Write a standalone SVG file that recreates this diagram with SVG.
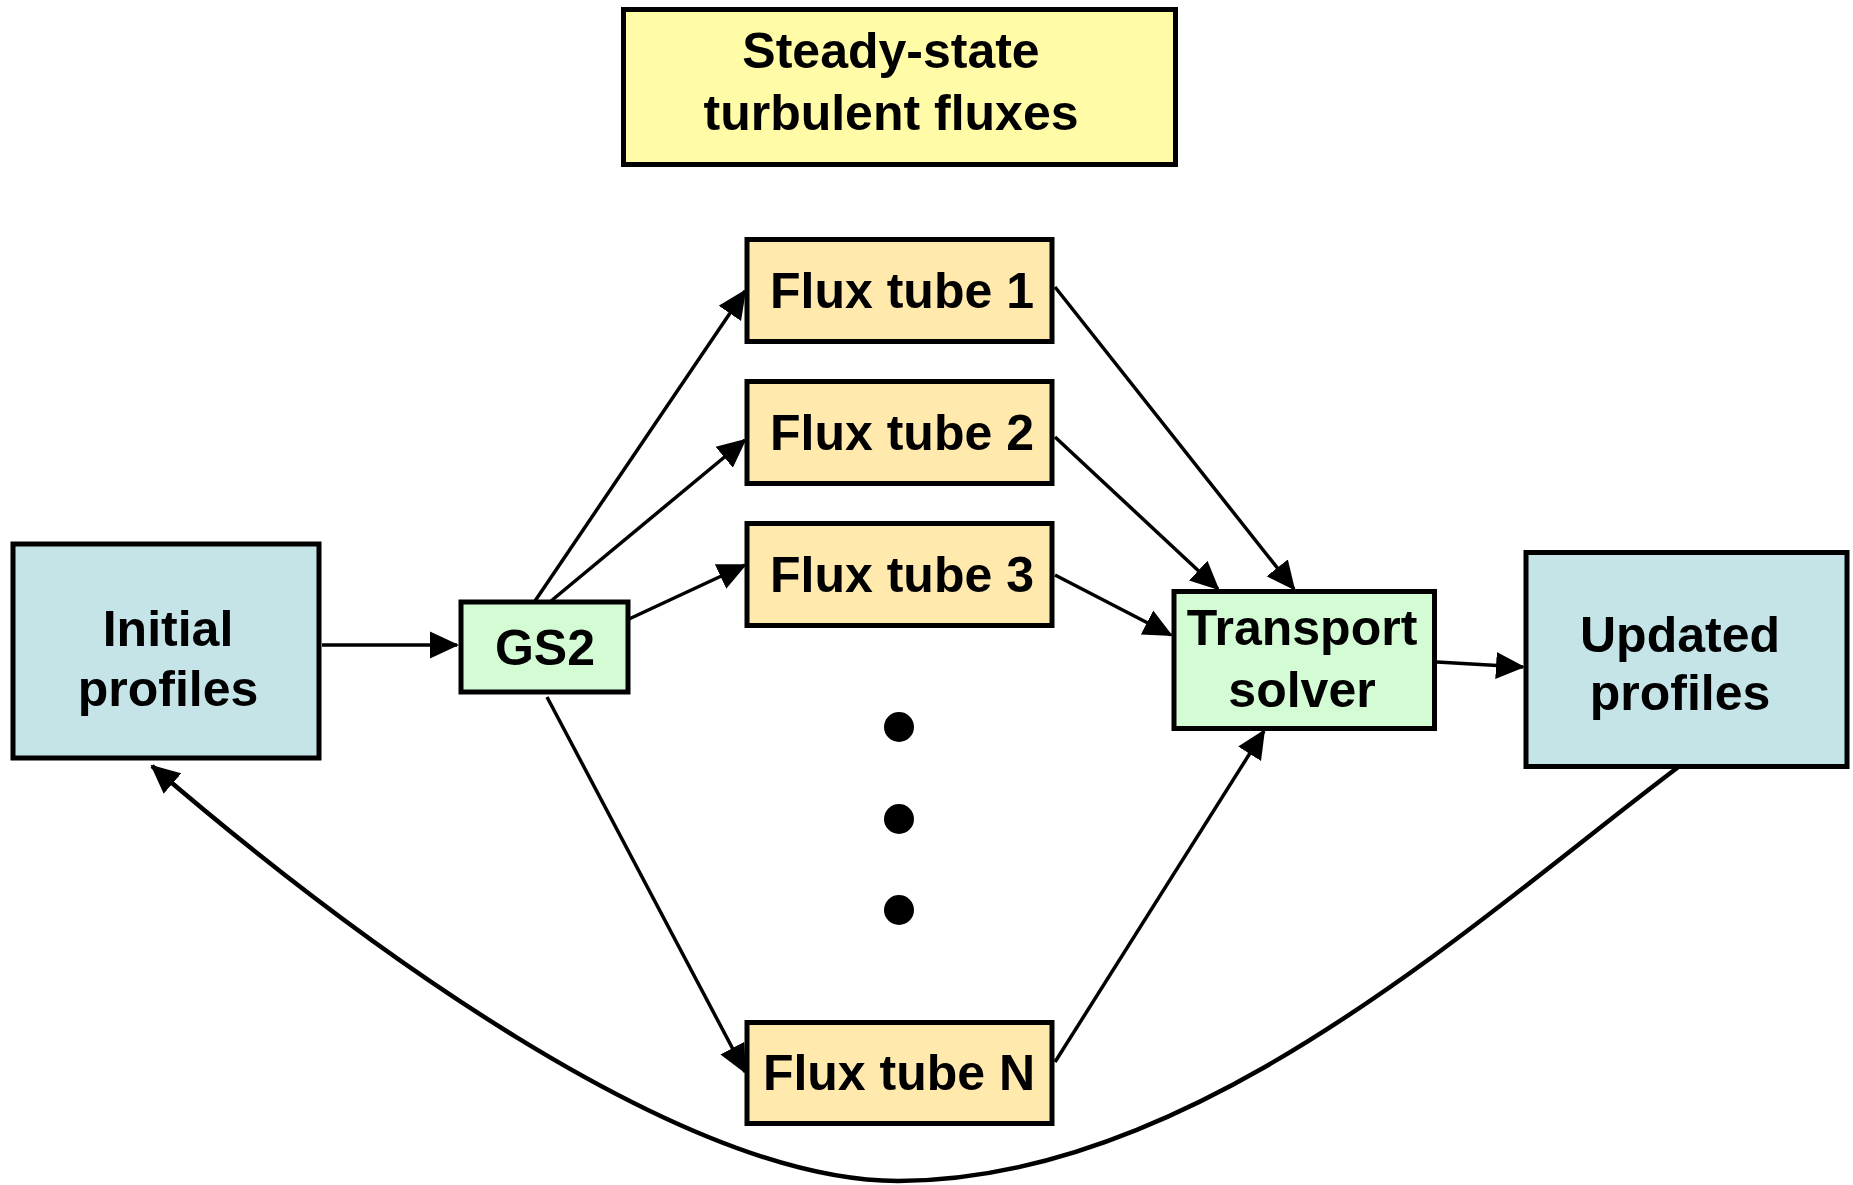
<svg xmlns="http://www.w3.org/2000/svg" width="1853" height="1185" viewBox="0 0 1853 1185">
  <defs>
    <marker id="arrow" markerUnits="userSpaceOnUse" markerWidth="30" markerHeight="28" viewBox="0 0 30 28" refX="27" refY="14" orient="auto">
      <path d="M0,0.5 L29,14 L0,27.5 z" fill="#000"/>
    </marker>
    <style>
      .box { stroke: #000; stroke-width: 5; }
      .profiles { fill: #C4E4E7; }
      .solver { fill: #D4FCD4; }
      .tube { fill: #FFE9AD; }
      .note { fill: #FFFBA6; }
      .label { font-family: "Liberation Sans", Arial, Helvetica, sans-serif; font-weight: bold; font-size: 50px; fill: #000; text-anchor: middle; }
      .link { fill: none; stroke: #000; stroke-width: 3.5; marker-end: url(#arrow); }
      .loop { fill: none; stroke: #000; stroke-width: 4.5; marker-end: url(#arrow); }
    </style>
  </defs>
  <rect width="1853" height="1185" fill="#fff"/>

  <!-- connectors -->
  <g id="connectors">
    <line class="link" x1="322" y1="645" x2="457" y2="645"/>
    <line class="link" x1="535" y1="601" x2="745" y2="291"/>
    <line class="link" x1="551" y1="601" x2="745" y2="440"/>
    <line class="link" x1="629" y1="619" x2="745" y2="565"/>
    <line class="link" x1="547" y1="697" x2="745" y2="1072"/>
    <line class="link" x1="1055" y1="287" x2="1294" y2="589"/>
    <line class="link" x1="1055" y1="437" x2="1218" y2="589"/>
    <line class="link" x1="1055" y1="575" x2="1171" y2="635"/>
    <line class="link" x1="1055" y1="1062" x2="1264" y2="731"/>
    <line class="link" x1="1437" y1="662" x2="1523" y2="667"/>
    <!-- feedback loop: updated profiles back to initial profiles -->
    <path class="loop" d="M1681,765 C1481,915 1198,1181 898,1181 C678,1181 351,937 152,766"/>
  </g>

  <g id="steady-state">
    <rect class="box note" x="623.5" y="9.5" width="552" height="155"/>
    <text class="label" x="891" y="68">Steady-state</text>
    <text class="label" x="891" y="130">turbulent fluxes</text>
  </g>

  <g id="initial-profiles">
    <rect class="box profiles" x="13" y="544" width="306" height="214"/>
    <text class="label" x="168" y="646">Initial</text>
    <text class="label" x="168" y="706">profiles</text>
  </g>

  <g id="gs2">
    <rect class="box solver" x="461" y="602" width="167" height="90"/>
    <text class="label" x="545" y="665">GS2</text>
  </g>

  <g id="flux-tube-1">
    <rect class="box tube" x="747" y="239.5" width="305" height="102"/>
    <text class="label" x="902" y="308">Flux tube 1</text>
  </g>

  <g id="flux-tube-2">
    <rect class="box tube" x="747" y="381.5" width="305" height="102"/>
    <text class="label" x="902" y="450">Flux tube 2</text>
  </g>

  <g id="flux-tube-3">
    <rect class="box tube" x="747" y="523.5" width="305" height="102"/>
    <text class="label" x="902" y="592">Flux tube 3</text>
  </g>

  <g id="ellipsis">
    <circle cx="899" cy="727" r="15"/>
    <circle cx="899" cy="819" r="15"/>
    <circle cx="899" cy="910" r="15"/>
  </g>

  <g id="flux-tube-n">
    <rect class="box tube" x="747" y="1022.5" width="305" height="101"/>
    <text class="label" x="899" y="1090">Flux tube N</text>
  </g>

  <g id="transport-solver">
    <rect class="box solver" x="1174" y="591.5" width="260.5" height="137"/>
    <text class="label" x="1302" y="645">Transport</text>
    <text class="label" x="1302" y="707">solver</text>
  </g>

  <g id="updated-profiles">
    <rect class="box profiles" x="1526" y="552.5" width="321" height="214"/>
    <text class="label" x="1680" y="652">Updated</text>
    <text class="label" x="1680" y="710">profiles</text>
  </g>
</svg>
